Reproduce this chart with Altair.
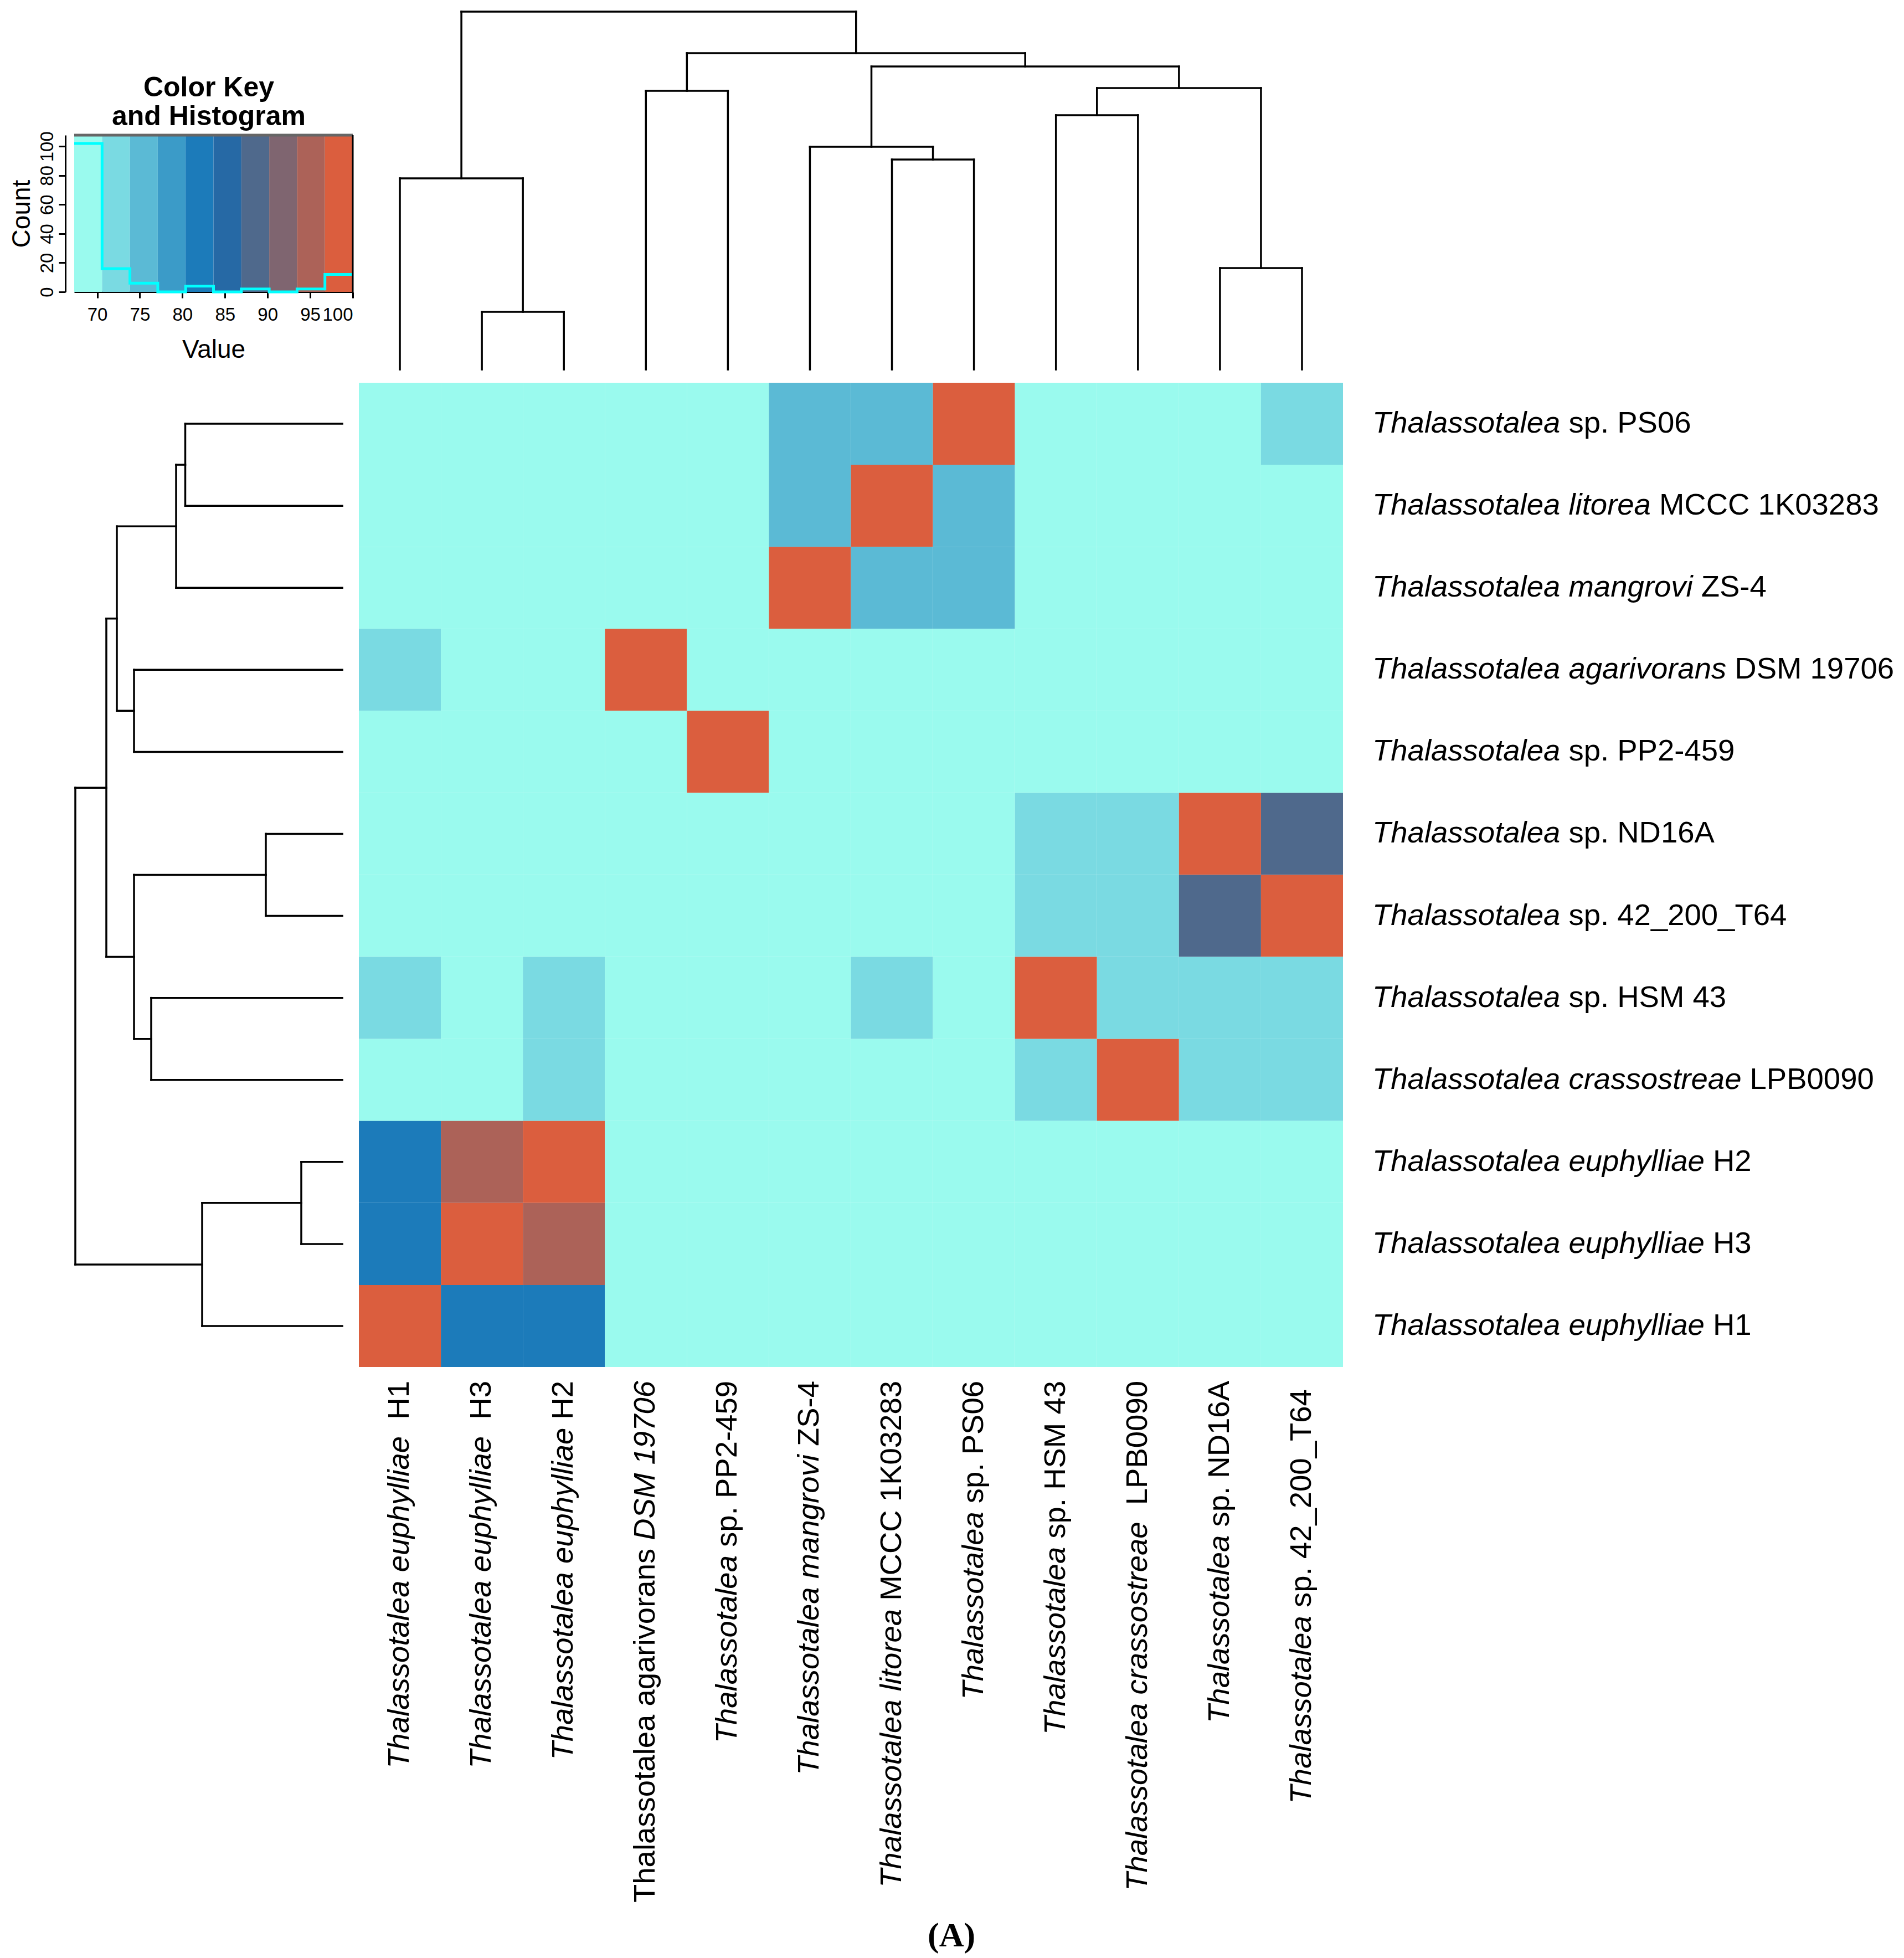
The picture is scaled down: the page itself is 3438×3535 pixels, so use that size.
import altair as alt
import pandas as pd
import numpy as np

FONT = "Liberation Sans"
FS = 54.5  # label font size

# ---------------- data ----------------
row_names = ["PS06", "litorea", "mangrovi", "agarivorans", "PP2-459", "ND16A",
             "42_200_T64", "HSM 43", "crassostreae", "H2", "H3", "H1"]
col_names = ["H1", "H3", "H2", "agarivorans", "PP2-459", "mangrovi",
             "litorea", "PS06", "HSM 43", "crassostreae", "ND16A", "42_200_T64"]

# (text, italic)
row_label_parts = [
    [("Thalassotalea", True), (" sp. PS06", False)],
    [("Thalassotalea litorea", True), (" MCCC 1K03283", False)],
    [("Thalassotalea mangrovi", True), (" ZS-4", False)],
    [("Thalassotalea agarivorans", True), (" DSM 19706", False)],
    [("Thalassotalea", True), (" sp. PP2-459", False)],
    [("Thalassotalea", True), (" sp. ND16A", False)],
    [("Thalassotalea", True), (" sp. 42_200_T64", False)],
    [("Thalassotalea", True), (" sp. HSM 43", False)],
    [("Thalassotalea crassostreae", True), (" LPB0090", False)],
    [("Thalassotalea euphylliae", True), (" H2", False)],
    [("Thalassotalea euphylliae", True), (" H3", False)],
    [("Thalassotalea euphylliae", True), (" H1", False)],
]
col_label_parts = [
    [("Thalassotalea euphylliae", True), ("  H1", False)],
    [("Thalassotalea euphylliae", True), ("  H3", False)],
    [("Thalassotalea euphylliae", True), (" H2", False)],
    [("Thalassotalea agarivorans ", False), ("DSM 19706", True)],
    [("Thalassotalea", True), (" sp. PP2-459", False)],
    [("Thalassotalea mangrovi", True), (" ZS-4", False)],
    [("Thalassotalea litorea", True), (" MCCC 1K03283", False)],
    [("Thalassotalea", True), (" sp. PS06", False)],
    [("Thalassotalea", True), (" sp. HSM 43", False)],
    [("Thalassotalea  crassostreae", True), (" LPB0090", False)],
    [("Thalassotalea", True), (" sp. ND16A", False)],
    [("Thalassotalea", True), (" sp.  42_200_T64", False)],
]

# similarity values, rows (top->bottom) x columns (left->right)
values = [
    [68.5, 68.5, 68.5, 68.5, 68.5, 75.6, 75.6, 100.0, 68.5, 68.5, 68.5, 72.3],
    [68.5, 68.5, 68.5, 68.5, 68.5, 75.6, 100.0, 75.6, 68.5, 68.5, 68.5, 68.5],
    [68.5, 68.5, 68.5, 68.5, 68.5, 100.0, 75.6, 75.6, 68.5, 68.5, 68.5, 68.5],
    [72.3, 68.5, 68.5, 100.0, 68.5, 68.5, 68.5, 68.5, 68.5, 68.5, 68.5, 68.5],
    [68.5, 68.5, 68.5, 68.5, 100.0, 68.5, 68.5, 68.5, 68.5, 68.5, 68.5, 68.5],
    [68.5, 68.5, 68.5, 68.5, 68.5, 68.5, 68.5, 68.5, 72.3, 72.3, 100.0, 88.9],
    [68.5, 68.5, 68.5, 68.5, 68.5, 68.5, 68.5, 68.5, 72.3, 72.3, 88.9, 100.0],
    [72.3, 68.5, 72.3, 68.5, 68.5, 68.5, 72.3, 68.5, 100.0, 72.3, 72.3, 72.3],
    [68.5, 68.5, 72.3, 68.5, 68.5, 68.5, 68.5, 68.5, 72.3, 100.0, 72.3, 72.3],
    [82.2, 95.6, 100.0, 68.5, 68.5, 68.5, 68.5, 68.5, 68.5, 68.5, 68.5, 68.5],
    [82.2, 100.0, 95.6, 68.5, 68.5, 68.5, 68.5, 68.5, 68.5, 68.5, 68.5, 68.5],
    [100.0, 82.2, 82.2, 68.5, 68.5, 68.5, 68.5, 68.5, 68.5, 68.5, 68.5, 68.5],
]

bin_colors = ["#9AFAEE", "#7ADAE2", "#5BBAD5", "#3B9BC8", "#1C7BBA",
              "#2669A5", "#4F698C", "#7F6570", "#AC6258", "#DB5E3E"]
key_lo, key_hi, n_bins = 67.3, 100.0, 10
key_count_top = 107.7
key_x_ticks = [70, 75, 80, 85, 90, 95, 100]
key_y_ticks = [0, 20, 40, 60, 80, 100]

# dendrogram merges: (child a, child b, merge height); "mK" = K-th merge
col_merges = [
    ("H3", "H2", 104), ("H1", "m0", 345), ("agarivorans", "PP2-459", 503),
    ("litorea", "PS06", 379), ("mangrovi", "m3", 402),
    ("HSM 43", "crassostreae", 459), ("ND16A", "42_200_T64", 183),
    ("m5", "m6", 508), ("m4", "m7", 547), ("m2", "m8", 571), ("m1", "m9", 646),
]
row_merges = [
    ("PS06", "litorea", 283.5), ("m0", "mangrovi", 300),
    ("agarivorans", "PP2-459", 376), ("m1", "m2", 407),
    ("ND16A", "42_200_T64", 138), ("HSM 43", "crassostreae", 345),
    ("m4", "m5", 376), ("m3", "m6", 426),
    ("H2", "H3", 74), ("m8", "H1", 253), ("m7", "m9", 482),
]

# ---------------- derived tables ----------------
edges = np.linspace(key_lo, key_hi, n_bins + 1)
thresholds = [round(float(e), 3) for e in edges[1:-1]]
color_scale = alt.Scale(type="threshold", domain=thresholds, range=bin_colors)

heat_df = pd.DataFrame([
    {"row": r, "col": c, "value": values[i][j]}
    for i, r in enumerate(row_names) for j, c in enumerate(col_names)
])

flat = np.array(values).ravel()
counts, _ = np.histogram(flat, bins=edges)
bins_df = pd.DataFrame({"lo": edges[:-1], "hi": edges[1:],
                        "mid": (edges[:-1] + edges[1:]) / 2,
                        "y0": 0.0, "y1": key_count_top})
hist_df = pd.DataFrame({"x": list(edges[:-1]) + [edges[-1]],
                        "count": [int(c) for c in counts] + [int(counts[-1])]})


def dendro_segments(leaves, merges):
    pos = {name: (float(i), 0.0) for i, name in enumerate(leaves)}
    segs = []
    for k, (a, b, h) in enumerate(merges):
        pa, ha = pos[a]
        pb, hb = pos[b]
        segs.append(dict(p1=pa, p2=pa, h1=ha, h2=h))
        segs.append(dict(p1=pb, p2=pb, h1=hb, h2=h))
        segs.append(dict(p1=pa, p2=pb, h1=h, h2=h))
        pos[f"m{k}"] = ((pa + pb) / 2, h)
    return pd.DataFrame(segs)


W = {" ": 278, ".": 278, "_": 556, "-": 333}
W.update({d: 556 for d in "0123456789"})
W.update(dict(zip("ABCDEFGHIJKLMNOPQRSTUVWXYZ",
                  [667, 667, 722, 722, 667, 611, 778, 722, 278, 500, 667, 556, 833,
                   722, 778, 667, 778, 722, 667, 611, 722, 667, 944, 667, 667, 611])))
W.update(dict(zip("abcdefghijklmnopqrstuvwxyz",
                  [556, 556, 500, 556, 556, 278, 556, 556, 222, 222, 500, 222, 833,
                   556, 556, 556, 556, 333, 500, 278, 556, 500, 722, 500, 500, 500])))


def tw(s):
    return sum(W.get(ch, 556) for ch in s) / 1000.0 * FS


def label_table(key, names, parts_list):
    rows = []
    for name, parts in zip(names, parts_list):
        total = sum(tw(t) for t, _ in parts)
        off = 0.0
        for t, it in parts:
            lead = len(t) - len(t.lstrip(" "))
            rows.append({key: name, "text": t.strip(), "italic": it,
                         "off": off + tw(" " * lead), "total": total})
            off += tw(t)
    return pd.DataFrame(rows)


HEAT = 1777
ROW_LAB_X = 1830
COL_LAB_TOP = 1802

row_lab = label_table("row", row_names, row_label_parts)
row_lab["px"] = ROW_LAB_X + row_lab["off"]
col_lab = label_table("col", col_names, col_label_parts)
col_lab["py"] = COL_LAB_TOP + col_lab["total"] - col_lab["off"]

# ---------------- heatmap ----------------
row_scale = alt.Scale(domain=row_names, paddingInner=0, paddingOuter=0)
col_scale = alt.Scale(domain=col_names, paddingInner=0, paddingOuter=0)
heat = alt.Chart(heat_df).mark_rect().encode(
    x=alt.X("col:N", sort=col_names, axis=None, scale=col_scale),
    y=alt.Y("row:N", sort=row_names, axis=None, scale=row_scale),
    color=alt.Color("value:Q", scale=color_scale, legend=None),
)


def row_text(italic):
    return alt.Chart(row_lab).transform_filter(
        alt.datum.italic == italic
    ).mark_text(align="left", baseline="middle", font=FONT, fontSize=FS,
                fontStyle="italic" if italic else "normal", color="black").encode(
        y=alt.Y("row:N", sort=row_names, axis=None, scale=row_scale),
        x=alt.X("px:Q", scale=None),
        text="text:N",
    )


def col_text(italic):
    return alt.Chart(col_lab).transform_filter(
        alt.datum.italic == italic
    ).mark_text(align="left", baseline="middle", angle=270, font=FONT, fontSize=FS,
                fontStyle="italic" if italic else "normal", color="black").encode(
        x=alt.X("col:N", sort=col_names, axis=None, scale=col_scale),
        y=alt.Y("py:Q", scale=None),
        text="text:N",
    )


heat_layer = alt.layer(heat, row_text(True), row_text(False),
                       col_text(True), col_text(False)).properties(width=HEAT, height=HEAT)

# ---------------- dendrograms ----------------
col_seg = dendro_segments(col_names, col_merges)
col_dendro = alt.Chart(col_seg).mark_rule(color="black", strokeWidth=3.5, strokeCap="square").encode(
    x=alt.X("p1:Q", scale=alt.Scale(domain=[-0.5, 11.5], nice=False, zero=False), axis=None),
    x2="p2:Q",
    y=alt.Y("h1:Q", scale=alt.Scale(domain=[0, 646], nice=False), axis=None),
    y2="h2:Q",
).properties(width=HEAT, height=646)

row_seg = dendro_segments(row_names, row_merges)
row_dendro = alt.Chart(row_seg).mark_rule(color="black", strokeWidth=3.5, strokeCap="square").encode(
    y=alt.Y("p1:Q", scale=alt.Scale(domain=[-0.5, 11.5], reverse=True, nice=False, zero=False), axis=None),
    y2="p2:Q",
    x=alt.X("h1:Q", scale=alt.Scale(domain=[0, 484], reverse=True, nice=False), axis=None),
    x2="h2:Q",
).properties(width=484, height=HEAT)

# ---------------- colour key ----------------
KX = alt.Scale(domain=[key_lo, key_hi], nice=False, zero=False)
KY = alt.Scale(domain=[0, key_count_top], range=[506, 223], nice=False)
axis_common = dict(domainColor="black", domainWidth=3, tickColor="black", tickWidth=3,
                   labelColor="black", titleColor="black", labelFont=FONT, titleFont=FONT,
                   titleFontWeight="normal", grid=False, labelFontSize=33, titleFontSize=46,
                   labelOverlap=False)

key_rects = alt.Chart(bins_df).mark_rect().encode(
    x=alt.X("lo:Q", scale=KX, axis=alt.Axis(values=key_x_ticks, title="Value", tickSize=11,
                                            labelPadding=14, titlePadding=24, **axis_common)),
    x2="hi:Q",
    y=alt.Y("y0:Q", scale=KY, axis=alt.Axis(values=key_y_ticks, title="Count", tickSize=12,
                                            labelPadding=4, labelAngle=270, offset=16,
                                            titlePadding=6, **axis_common)),
    y2="y1:Q",
    color=alt.Color("mid:Q", scale=color_scale, legend=None),
)
key_hist = alt.Chart(hist_df).mark_line(interpolate="step-after", color="#00FFFF", strokeWidth=5).encode(
    x=alt.X("x:Q", scale=KX), y=alt.Y("count:Q", scale=KY))
frame_df = pd.DataFrame({"lo": [key_lo], "hi": [key_hi], "top": [key_count_top], "zero": [0.0]})
key_top_rule = alt.Chart(frame_df).mark_rule(color="#666666", strokeWidth=5).encode(
    x=alt.X("lo:Q", scale=KX), x2="hi:Q", y=alt.Y("top:Q", scale=KY))
key_right_rule = alt.Chart(frame_df).mark_rule(color="black", strokeWidth=3).encode(
    x=alt.X("hi:Q", scale=KX), y=alt.Y("zero:Q", scale=KY), y2="top:Q")
key_title_df = pd.DataFrame({"t": ["Color Key", "and Histogram"], "yy": [153, 205]})
key_title = alt.Chart(key_title_df).mark_text(font=FONT, fontSize=50, fontWeight="bold",
                                              baseline="alphabetic", align="center", color="black").encode(
    text="t:N", x=alt.value(243), y=alt.Y("yy:Q", scale=None))

color_key = alt.layer(key_rects, key_hist, key_top_rule, key_right_rule, key_title).properties(
    width=503, height=506)

# ---------------- assemble ----------------
chart = alt.concat(
    color_key, col_dendro, row_dendro, heat_layer,
    columns=2, spacing={"row": 24, "column": 11}, bounds="flush",
).properties(
    padding={"left": 8, "top": 10, "right": 2, "bottom": 5},
    title=alt.Title("(A)", orient="bottom", font="Liberation Serif", fontSize=62,
                    fontWeight="bold", color="black", offset=30, anchor="middle"),
).configure(background="white").configure_view(stroke=None)

chart.save("out.html", embed_options={"renderer": "svg", "actions": False})
